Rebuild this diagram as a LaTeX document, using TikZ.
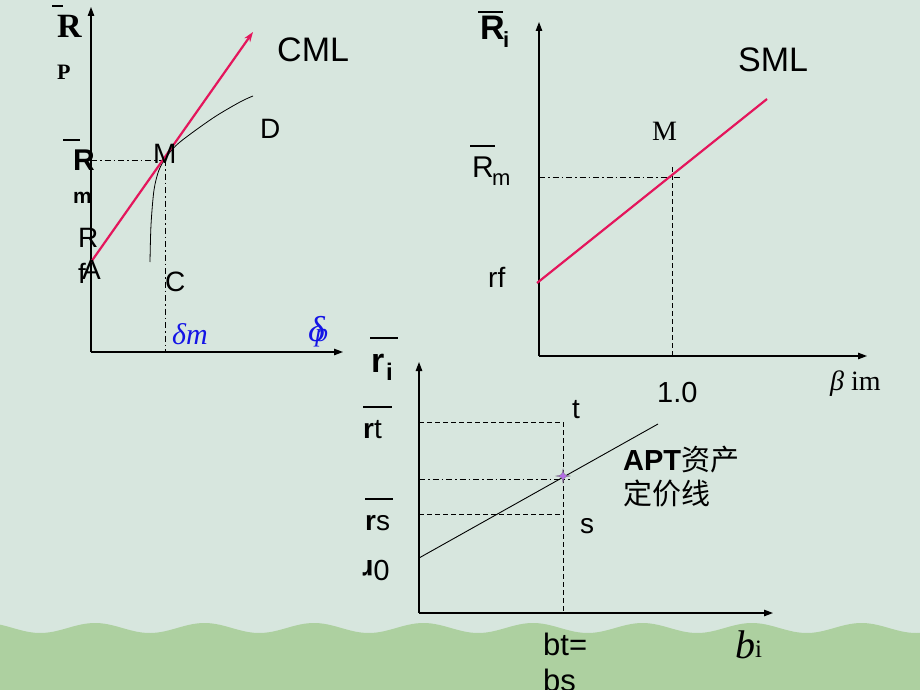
\documentclass[tikz,border=0pt]{standalone}
\usepackage{fontspec}
\setmainfont{Liberation Serif}
\setsansfont{Liberation Sans}
\newfontfamily\cjk{Noto Sans CJK SC}
\usetikzlibrary{arrows.meta}
\definecolor{bgc}{HTML}{D7E6DE}
\definecolor{grn}{HTML}{ADD0A0}
\definecolor{redl}{HTML}{E4165C}
\definecolor{bluel}{HTML}{1414E6}
\definecolor{starc}{HTML}{B46EE6}
\newcommand{\fs}[1]{\fontsize{#1}{#1}\selectfont}
\tikzset{
  lbl/.style={inner sep=0pt, anchor=base west, font=\sffamily\fs{28}},
  axisline/.style={line width=1.2pt, -{Triangle[length=9pt,width=6.5pt]}},
  redline/.style={draw=redl, line width=2.2pt},
  dashdot/.style={line width=0.9pt, dash pattern=on 6pt off 3pt on 1.5pt off 3pt},
  dashline/.style={line width=0.9pt, dash pattern=on 5pt off 3pt},
}
\begin{document}
\begin{tikzpicture}[x=1pt,y=-1pt]
\useasboundingbox (0,0) rectangle (920,690);
\fill[bgc] (0,0) rectangle (920,690);
\fill[grn] (0,690) -- plot[domain=0:920,samples=240] (\x,{628-5*cos((\x-95)*3.2877)}) -- (920,690) -- cycle;

% ---------- left chart (CML) ----------
\coordinate (o1) at (91,352);
\coordinate (y1) at (91,7);
\coordinate (x1) at (343,352);
\coordinate (A) at (91,262);
\coordinate (cmlTip) at (253,32);
\coordinate (M1) at (165,160);
\coordinate (M1y) at (91,160);
\coordinate (M1x) at (165,352);
\draw[axisline] (o1) -- (y1);
\draw[axisline] (o1) -- (x1);
\draw[dashdot] (M1y) -- (M1);
\draw[dashdot] (M1) -- (M1x);
\draw[line width=0.8pt] plot[smooth] coordinates {(150,262) (151,225) (154,190) (159,170) (167,156) (180,142) (213,118) (240,102) (253,96)};
\draw[redline, -{Stealth[length=10pt,width=7pt]}] (A) -- (cmlTip);
\node[lbl, font=\sffamily\fs{34}] (cml) at (277,62) {CML};
\node[lbl] (D) at (260,138) {D};
\node[lbl] (Mlab) at (153,163) {M};
\node[lbl] (C) at (165,291) {C};
\node[lbl] (Rf1) at (78,247) {R};
\node[lbl] (Rf2) at (78,283) {f};
\node[lbl] (Alab) at (82,279) {A};
\draw[line width=1.2pt] (52,6) -- (63,6);
\node[lbl, font=\rmfamily\bfseries\fs{34}] (Rp) at (57,38) {R};
\node[lbl, font=\rmfamily\bfseries\fs{22}] (Pp) at (57,80) {P};
\draw[line width=1.2pt] (63,140) -- (80,140);
\node[lbl, font=\sffamily\bfseries\fs{30}] (Rm1) at (73,170) {R};
\node[lbl, font=\sffamily\bfseries\fs{21}] (m1) at (73,203) {m};
\node[lbl, font=\rmfamily\itshape\fs{30}, text=bluel] (dm) at (172,344) {δm};
\node[lbl, font=\rmfamily\itshape\fs{36}, text=bluel] (dp1) at (308,341) {δ};
\node[lbl, font=\rmfamily\itshape\fs{26}, text=bluel] (dp2) at (315,341) {p};

% ---------- right chart (SML) ----------
\coordinate (o2) at (539,356);
\coordinate (y2) at (539,22);
\coordinate (x2) at (867,356);
\coordinate (rf) at (537,283);
\coordinate (smlEnd) at (767,99);
\coordinate (M2y) at (539,177);
\coordinate (M2r) at (682,177);
\coordinate (M2t) at (672,167);
\coordinate (M2x) at (672,356);
\draw[axisline] (o2) -- (y2);
\draw[axisline] (o2) -- (x2);
\draw[dashdot] (M2y) -- (M2r);
\draw[dashline] (M2t) -- (M2x);
\draw[redline] (rf) -- (smlEnd);
\draw[line width=2.6pt] (478,12) -- (503,12);
\node[lbl, font=\sffamily\bfseries\fs{34}] (Ri) at (480,40) {R};
\node[lbl, font=\sffamily\bfseries\fs{22}] (Rii) at (503,48) {i};
\node[lbl, font=\sffamily\fs{34}] (sml) at (738,72) {SML};
\node[lbl, font=\rmfamily\fs{28}] (M2) at (652,140) {M};
\draw[line width=2pt] (470,146) -- (495,146);
\node[lbl, font=\sffamily\fs{30}] (Rm2) at (472,177) {R};
\node[lbl, font=\sffamily\fs{22}] (m2) at (492,185) {m};
\node[lbl] (rflab) at (488,287) {rf};
\node[lbl, font=\sffamily\fs{29}] (one) at (657,402) {1.0};
\node[lbl, font=\rmfamily\fs{28}] (bim) at (830,390) {\textit{β} im};

% ---------- bottom chart (APT) ----------
\coordinate (o3) at (419,613);
\coordinate (y3) at (419,362);
\coordinate (x3) at (773,613);
\coordinate (aptS) at (419,558);
\coordinate (aptE) at (658,424);
\coordinate (tY) at (419,422);
\coordinate (tP) at (563,422);
\coordinate (pY) at (419,479);
\coordinate (pP) at (570,479);
\coordinate (sY) at (419,514);
\coordinate (sP) at (563,514);
\coordinate (bX) at (563,613);
\draw[axisline] (o3) -- (y3);
\draw[axisline] (o3) -- (x3);
\draw[dashline] (tY) -- (tP);
\draw[dashline] (tP) -- (bX);
\draw[dashdot] (pY) -- (pP);
\draw[dashline] (sY) -- (sP);
\draw[line width=0.9pt] (aptS) -- (aptE);
\node[inner sep=0pt] (star) at (563,476) {};
\fill[starc, draw=black!60, line width=0.3pt] (563,469) .. controls (564,475) .. (570,476) .. controls (564,477) .. (563,483) .. controls (562,477) .. (556,476) .. controls (562,475) .. (563,469) -- cycle;
\draw[line width=2.2pt] (370,338) -- (398,338);
\node[lbl, font=\sffamily\bfseries\fs{34}] (ri) at (371,372) {r};
\node[lbl, font=\sffamily\bfseries\fs{24}] (rii) at (386,380) {i};
\draw[line width=2.2pt] (363,407) -- (392,407);
\node[lbl] (rt) at (363,438) {\textbf{r}t};
\draw[line width=2.2pt] (365,499) -- (393,499);
\node[lbl] (rs) at (365,530) {\textbf{r}s};
\node[inner sep=0pt, rotate=180, font=\sffamily\fs{29}] (r0) at (376,570) {0\textbf{r}};
\node[lbl] (tl) at (572,418) {t};
\node[lbl] (sl) at (580,533) {s};
\node[lbl, font=\sffamily\fs{29}] (apt1) at (623,470) {\textbf{APT}{\cjk 资产}};
\node[lbl, font=\cjk\fs{29}] (apt2) at (623,504) {定价线};
\node[lbl, font=\sffamily\fs{31}] (bt) at (543,655) {bt=};
\node[lbl, font=\sffamily\fs{31}] (bs) at (543,691) {bs};
\node[lbl, font=\rmfamily\itshape\fs{40}] (bi) at (735,658) {b};
\node[lbl, font=\rmfamily\fs{25}] (bii) at (755,657) {i};
\end{tikzpicture}
\end{document}
